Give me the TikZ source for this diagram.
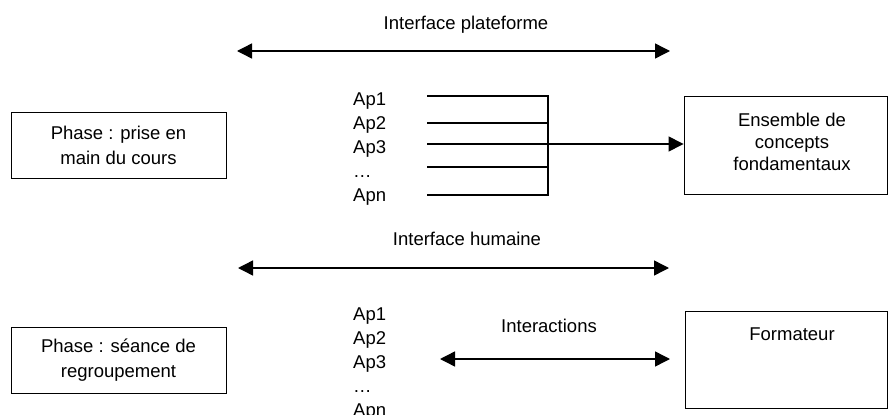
\documentclass[tikz,border=0pt]{standalone}
\usepackage{fontspec}
\setmainfont{Liberation Sans}
\usetikzlibrary{arrows.meta}
\begin{document}
\begin{tikzpicture}[x=1pt,y=-1pt,
  txt/.style={inner sep=0pt,font=\fontsize{18.5}{23}\selectfont},
  boxnode/.style={draw,line width=0.9pt,inner sep=0pt,align=center,font=\fontsize{18.5}{25}\selectfont},
  conn/.style={line width=1.4pt},
  biarrow/.style={line width=1.4pt,{Triangle[length=15pt,width=15pt]}-{Triangle[length=15pt,width=15pt]}},
  onearrow/.style={line width=1.4pt,-{Triangle[length=15pt,width=15pt]}}]
\useasboundingbox (0,0) rectangle (889,415);
\clip (0,0) rectangle (889,415);
% top interface
\node[txt,anchor=base] (ip) at (466,29) {Interface plateforme};
\coordinate (ipL) at (237,51);
\coordinate (ipR) at (670,51);
\draw[biarrow] (ipL) -- (ipR);
% phase 1
\node[boxnode,minimum width=215pt,minimum height=66pt] (ph1) at (118.5,145) {Phase : prise en\\main du cours};
% Ap list top
\node[txt,anchor=base west] (a1) at (353,105) {Ap1};
\node[txt,anchor=base west] (a2) at (353,129.2) {Ap2};
\node[txt,anchor=base west] (a3) at (353,153.4) {Ap3};
\node[txt,anchor=base west] (a4) at (353,177.6) {…};
\node[txt,anchor=base west] (a5) at (353,201.8) {Apn};
% concepts box
\node[draw,line width=0.9pt,minimum width=203.5pt,minimum height=98pt,inner sep=0pt] (ens) at (785.75,145) {};
\node[inner sep=0pt,font=\fontsize{18.5}{22}\selectfont,anchor=base,align=center] (enst) at (792,170) {Ensemble de\\concepts\\fondamentaux};
% lines
\coordinate (s1) at (427,96);
\coordinate (s2) at (427,123);
\coordinate (s3) at (427,144);
\coordinate (s4) at (427,167);
\coordinate (s5) at (427,195);
\coordinate (j1) at (548,96);
\coordinate (j5) at (548,195);
\draw[conn] (s1) -- (j1) -- (j5) -- (s5);
\draw[conn] (s2) -- (s2 -| j1);
\draw[conn] (s4) -- (s4 -| j1);
\draw[onearrow] (s3) -- (s3 -| ens.west);
% human interface
\node[txt,anchor=base] (ih) at (467,245) {Interface humaine};
\coordinate (ihL) at (238,268);
\coordinate (ihR) at (669,268);
\draw[biarrow] (ihL) -- (ihR);
% phase 2
\node[boxnode,minimum width=215pt,minimum height=66pt] (ph2) at (118.5,360) {Phase : séance de\\regroupement};
% Ap list bottom
\node[txt,anchor=base west] (b1) at (353,320) {Ap1};
\node[txt,anchor=base west] (b2) at (353,344.2) {Ap2};
\node[txt,anchor=base west] (b3) at (353,368.4) {Ap3};
\node[txt,anchor=base west] (b4) at (353,392.6) {…};
\node[txt,anchor=base west] (b5) at (353,416) {Apn};
% formateur
\node[draw,line width=0.9pt,minimum width=202.5pt,minimum height=97pt,inner sep=0pt] (form) at (786.25,359.5) {};
\node[txt,anchor=base] (formt) at (792,340) {Formateur};
% interactions
\node[txt,anchor=base] (inter) at (549,332) {Interactions};
\coordinate (inL) at (440,359);
\coordinate (inR) at (670,359);
\draw[biarrow] (inL) -- (inR);
\end{tikzpicture}
\end{document}
